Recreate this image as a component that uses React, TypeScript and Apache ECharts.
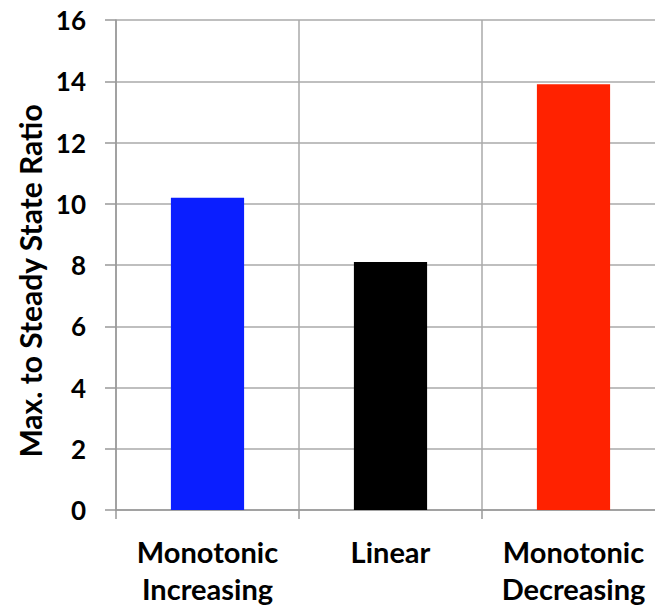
import React, { useEffect, useRef } from "react";
import * as echarts from "echarts";

const categories = ["Monotonic\nIncreasing", "Linear", "Monotonic\nDecreasing"];
const values = [10.2, 8.1, 13.9];
const barColors = ["#0a1eff", "#000000", "#ff2200"];
const yAxisTitle = "Max. to Steady State Ratio";

export default function App() {
  const ref = useRef<HTMLDivElement>(null);
  useEffect(() => {
    if (!ref.current) return;
    const chart = echarts.init(ref.current, null, { renderer: "svg" });
    const font = "Lato, 'Open Sans', sans-serif";
    chart.setOption({
      animation: false,
      backgroundColor: "#ffffff",
      grid: { left: 116, width: 549, top: 20, bottom: 97, containLabel: false },
      graphic: [
        {
          type: "text",
          x: 30,
          y: 281,
          rotation: Math.PI / 2,
          style: {
            text: yAxisTitle,
            align: "center",
            verticalAlign: "middle",
            fill: "#000000",
            font: `bold 30px ${font}`,
          },
        },
      ],
      xAxis: {
        type: "category",
        data: categories,
        axisLine: { show: true, lineStyle: { color: "#999999", width: 1.5 } },
        axisTick: { show: true, length: 9, lineStyle: { color: "#999999", width: 1.5 } },
        splitLine: { show: true, lineStyle: { color: "#aaaaaa", width: 1.5 } },
        axisLabel: {
          color: "#000000",
          fontFamily: font,
          fontWeight: "bold",
          fontSize: 29,
          lineHeight: 37,
          margin: 23,
          interval: 0,
        },
      },
      yAxis: {
        type: "value",
        min: 0,
        max: 16,
        interval: 2,
        axisLine: { show: true, lineStyle: { color: "#999999", width: 1.5 } },
        axisTick: { show: true, length: 11, lineStyle: { color: "#999999", width: 1.5 } },
        splitLine: { show: true, lineStyle: { color: "#aaaaaa", width: 1.5 } },
        axisLabel: {
          color: "#000000",
          fontFamily: font,
          fontWeight: "bold",
          fontSize: 26,
          margin: 30,
        },
      },
      series: [
        {
          type: "bar",
          barWidth: "40%",
          data: values.map((v, i) => ({ value: v, itemStyle: { color: barColors[i] } })),
        },
      ],
    });
    return () => chart.dispose();
  }, []);
  return (
    <div
      style={{
        position: "fixed",
        left: 0,
        top: 0,
        width: 655,
        height: 607,
        overflow: "hidden",
        background: "#ffffff",
      }}
    >
      <div ref={ref} style={{ width: 690, height: 607 }} />
    </div>
  );
}
